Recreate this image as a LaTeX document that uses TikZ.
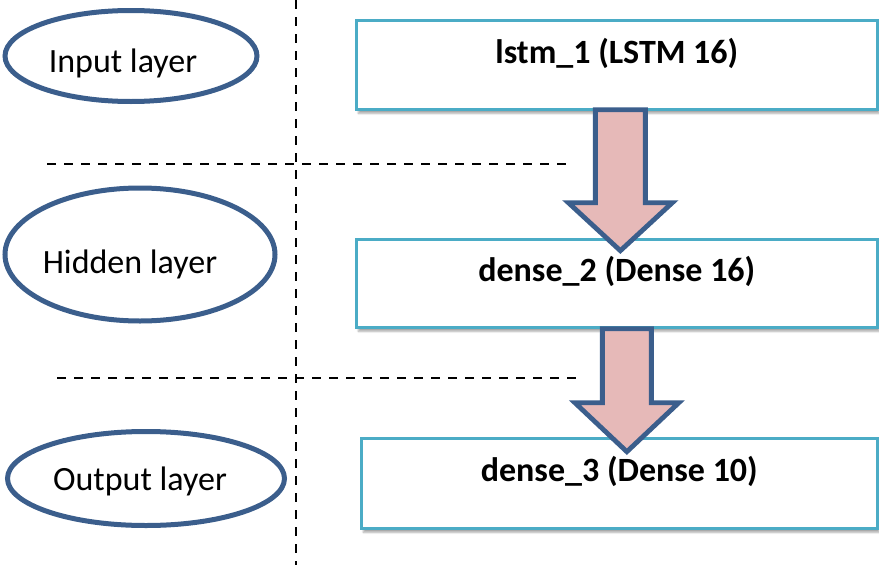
\documentclass[tikz,border=0pt]{standalone}
\usepackage{fontspec}
\setmainfont{Carlito}
\usetikzlibrary{shapes.geometric,shadows.blur,calc}

\definecolor{ringblue}{RGB}{59,94,140}
\definecolor{boxcyan}{RGB}{75,172,198}
\definecolor{arrowfill}{RGB}{230,185,184}

\tikzset{
  layerring/.style={ellipse, draw=ringblue, line width=5pt, inner sep=0pt},
  layertext/.style={font=\fontsize{34}{40}\selectfont, text=black, inner sep=0pt, anchor=base},
  netbox/.style={rectangle, draw=boxcyan, fill=white, line width=2.7pt,
    anchor=north west, inner sep=0pt,
    blur shadow={shadow xshift=2pt, shadow yshift=-4pt, shadow blur steps=6, shadow opacity=35}},
  netboxtext/.style={font=\bfseries\fontsize{34}{40}\selectfont, text=black, inner sep=0pt, anchor=base},
  divider/.style={black, line width=2.4pt, dash pattern=on 9pt off 8pt},
  blockarrow/.style={draw=ringblue, fill=arrowfill, line width=4.8pt, line join=miter},
}

\begin{document}
\begin{tikzpicture}[x=1pt, y=-1pt]
  \useasboundingbox (0,0) rectangle (879,565);

  % dashed dividers between the layers
  \coordinate (vtop) at (296,0);
  \coordinate (vbot) at (296,565);
  \coordinate (h1a) at (47,164);
  \coordinate (h1b) at (571,164);
  \coordinate (h2a) at (57,378);
  \coordinate (h2b) at (581,378);
  \draw[divider] (vtop) -- (vbot);
  \draw[divider] (h1a) -- (h1b);
  \draw[divider] (h2a) -- (h2b);

  % layer names
  \node[layerring, minimum width=252pt, minimum height=91pt] (inring) at (131,56) {};
  \node[layertext] (intext) at (123,72) {Input layer};
  \node[layerring, minimum width=270pt, minimum height=133pt] (hidring) at (140,254.5) {};
  \node[layertext] (hidtext) at (130,273) {Hidden layer};
  \node[layerring, minimum width=277pt, minimum height=94pt] (outring) at (146,478.5) {};
  \node[layertext] (outtext) at (140,490) {Output layer};

  % network layers
  \node[netbox, minimum width=521pt, minimum height=89pt] (b1) at (355,19) {};
  \node[netboxtext] (t1) at ($(b1.north)+(0,44)$) {lstm\_1 (LSTM 16)};
  \node[netbox, minimum width=521pt, minimum height=88pt] (b2) at (355,238) {};
  \node[netboxtext] (t2) at ($(b2.north)+(0,43)$) {dense\_2 (Dense 16)};
  \node[netbox, minimum width=516pt, minimum height=90pt] (b3) at (360,437) {};
  \node[netboxtext] (t3) at ($(b3.north)+(0,44)$) {dense\_3 (Dense 10)};

  % block arrows from one layer to the next
  \coordinate (a1) at ($(b1.south)+(3.5,-1)$);
  \draw[blockarrow]
    ($(a1)+(-25,0)$) -- ($(a1)+(25,0)$) -- ($(a1)+(25,93)$) -- ($(a1)+(52,93)$)
    -- ($(a1)+(0,141)$) -- ($(a1)+(-52,93)$) -- ($(a1)+(-25,93)$) -- cycle;
  \coordinate (a2) at ($(b2.south)+(10,0)$);
  \draw[blockarrow]
    ($(a2)+(-24.5,0)$) -- ($(a2)+(24.5,0)$) -- ($(a2)+(24.5,74)$) -- ($(a2)+(52,74)$)
    -- ($(a2)+(0,123)$) -- ($(a2)+(-52,74)$) -- ($(a2)+(-24.5,74)$) -- cycle;
\end{tikzpicture}
\end{document}
